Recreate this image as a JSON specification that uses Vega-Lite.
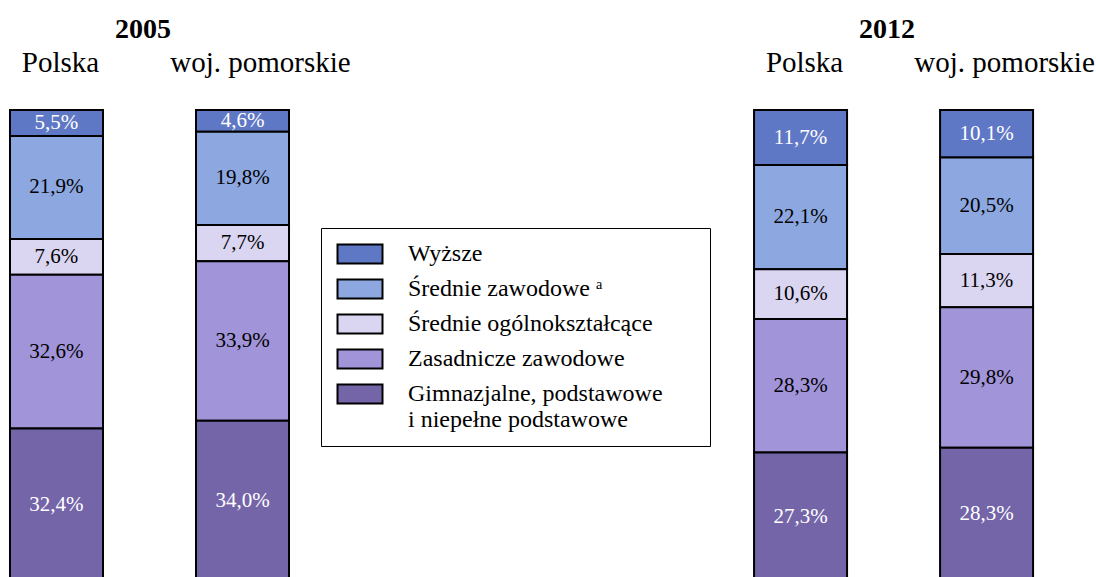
{
  "$schema": "https://vega.github.io/schema/vega-lite/v6.json",
  "width": 1096,
  "height": 577,
  "autosize": {"type": "fit", "contains": "padding"},
  "padding": 0,
  "background": "white",
  "config": {"view": {"stroke": null}, "font": "Liberation Serif"},
  "data": {
    "values": [
      {"slot": "P05", "cat": "Wyższe", "k": 1, "value": 5.5},
      {"slot": "P05", "cat": "Średnie zawodowe", "k": 2, "value": 21.9},
      {"slot": "P05", "cat": "Średnie ogólnokształcące", "k": 3, "value": 7.6},
      {"slot": "P05", "cat": "Zasadnicze zawodowe", "k": 4, "value": 32.6},
      {"slot": "P05", "cat": "Gimnazjalne, podstawowe i niepełne podstawowe", "k": 5, "value": 32.4},
      {"slot": "W05", "cat": "Wyższe", "k": 1, "value": 4.6},
      {"slot": "W05", "cat": "Średnie zawodowe", "k": 2, "value": 19.8},
      {"slot": "W05", "cat": "Średnie ogólnokształcące", "k": 3, "value": 7.7},
      {"slot": "W05", "cat": "Zasadnicze zawodowe", "k": 4, "value": 33.9},
      {"slot": "W05", "cat": "Gimnazjalne, podstawowe i niepełne podstawowe", "k": 5, "value": 34.0},
      {"slot": "P12", "cat": "Wyższe", "k": 1, "value": 11.7},
      {"slot": "P12", "cat": "Średnie zawodowe", "k": 2, "value": 22.1},
      {"slot": "P12", "cat": "Średnie ogólnokształcące", "k": 3, "value": 10.6},
      {"slot": "P12", "cat": "Zasadnicze zawodowe", "k": 4, "value": 28.3},
      {"slot": "P12", "cat": "Gimnazjalne, podstawowe i niepełne podstawowe", "k": 5, "value": 27.3},
      {"slot": "W12", "cat": "Wyższe", "k": 1, "value": 10.1},
      {"slot": "W12", "cat": "Średnie zawodowe", "k": 2, "value": 20.5},
      {"slot": "W12", "cat": "Średnie ogólnokształcące", "k": 3, "value": 11.3},
      {"slot": "W12", "cat": "Zasadnicze zawodowe", "k": 4, "value": 29.8},
      {"slot": "W12", "cat": "Gimnazjalne, podstawowe i niepełne podstawowe", "k": 5, "value": 28.3}
    ]
  },
  "transform": [
    {"stack": "value", "groupby": ["slot"], "sort": [{"field": "k", "order": "ascending"}], "as": ["v0", "v1"]}
  ],
  "encoding": {
    "x": {
      "field": "slot",
      "type": "nominal",
      "axis": null,
      "scale": {
        "type": "band",
        "domain": ["P05", "W05", "g1", "g2", "P12", "W12"],
        "paddingInner": 0.5,
        "paddingOuter": 0.196,
        "align": 0.137
      }
    }
  },
  "layer": [
    {
      "mark": {"type": "bar", "stroke": "black", "strokeWidth": 2, "clip": true},
      "encoding": {
        "y": {
          "field": "v0",
          "type": "quantitative",
          "axis": null,
          "scale": {"domain": [-23.35, 99.15], "reverse": true, "nice": false, "zero": false}
        },
        "y2": {"field": "v1"},
        "fill": {
          "field": "cat",
          "type": "nominal",
          "scale": {
            "domain": ["Wyższe", "Średnie zawodowe", "Średnie ogólnokształcące", "Zasadnicze zawodowe", "Gimnazjalne, podstawowe i niepełne podstawowe"],
            "range": ["#5F78C5", "#8DA8E0", "#DAD5F1", "#A194D8", "#7464A8"]
          },
          "legend": {
            "title": "\u00a0",
            "titleOrient": "right",
            "titlePadding": 33,
            "titleFontSize": 24,
            "titleFont": "Liberation Serif",
            "orient": "none",
            "legendX": 321,
            "legendY": 228,
            "padding": 14,
            "strokeColor": "black",
            "fillColor": "white",
            "symbolType": "M-2.368,-1H2.368V1H-2.368Z",
            "symbolSize": 361,
            "symbolOffset": 13,
            "symbolStrokeColor": "black",
            "symbolStrokeWidth": 2,
            "symbolOpacity": 1,
            "labelFont": "Liberation Serif",
            "labelFontSize": 24,
            "labelColor": "black",
            "labelLimit": 0,
            "labelOffset": 36,
            "labelBaseline": "middle",
            "rowPadding": 7,
            "labelExpr": "datum.label == 'Gimnazjalne, podstawowe i niepełne podstawowe' ? ['Gimnazjalne, podstawowe', '\u2002i niepełne podstawowe'] : (datum.label == 'Średnie zawodowe' ? 'Średnie zawodowe ᵃ' : datum.label)"
          }
        }
      }
    },
    {
      "transform": [
        {"calculate": "(datum.v0 + datum.v1) / 2", "as": "mid"},
        {"calculate": "replace(format(datum.value, '.1f'), '.', ',') + '%'", "as": "lab"}
      ],
      "mark": {"type": "text", "font": "Liberation Serif", "fontSize": 21, "baseline": "middle", "align": "center"},
      "encoding": {
        "y": {"field": "mid", "type": "quantitative"},
        "text": {"field": "lab"},
        "color": {
          "condition": {"test": "datum.k == 1 || datum.k == 5", "value": "white"},
          "value": "black"
        }
      }
    },
    {
      "data": {"values": [{"slot": "P05", "t": "Polska"}, {"slot": "P12", "t": "Polska"}]},
      "mark": {"type": "text", "font": "Liberation Serif", "fontSize": 29, "baseline": "alphabetic", "align": "center", "dx": 4, "color": "black"},
      "encoding": {
        "y": {"datum": -8.07, "type": "quantitative"},
        "text": {"field": "t"}
      }
    },
    {
      "data": {"values": [{"slot": "W05", "t": "woj. pomorskie"}, {"slot": "W12", "t": "woj. pomorskie"}]},
      "mark": {"type": "text", "font": "Liberation Serif", "fontSize": 29, "baseline": "alphabetic", "align": "center", "dx": 18, "color": "black"},
      "encoding": {
        "y": {"datum": -8.07, "type": "quantitative"},
        "text": {"field": "t"}
      }
    },
    {
      "data": {"values": [{"slot": "P05", "t": "2005"}, {"slot": "P12", "t": "2012"}]},
      "mark": {"type": "text", "font": "Liberation Serif", "fontSize": 28, "fontWeight": "bold", "baseline": "alphabetic", "align": "center", "dx": 40, "color": "black"},
      "encoding": {
        "x": {"field": "slot", "type": "nominal", "bandPosition": 1},
        "y": {"datum": -15.29, "type": "quantitative"},
        "text": {"field": "t"}
      }
    }
  ]
}
